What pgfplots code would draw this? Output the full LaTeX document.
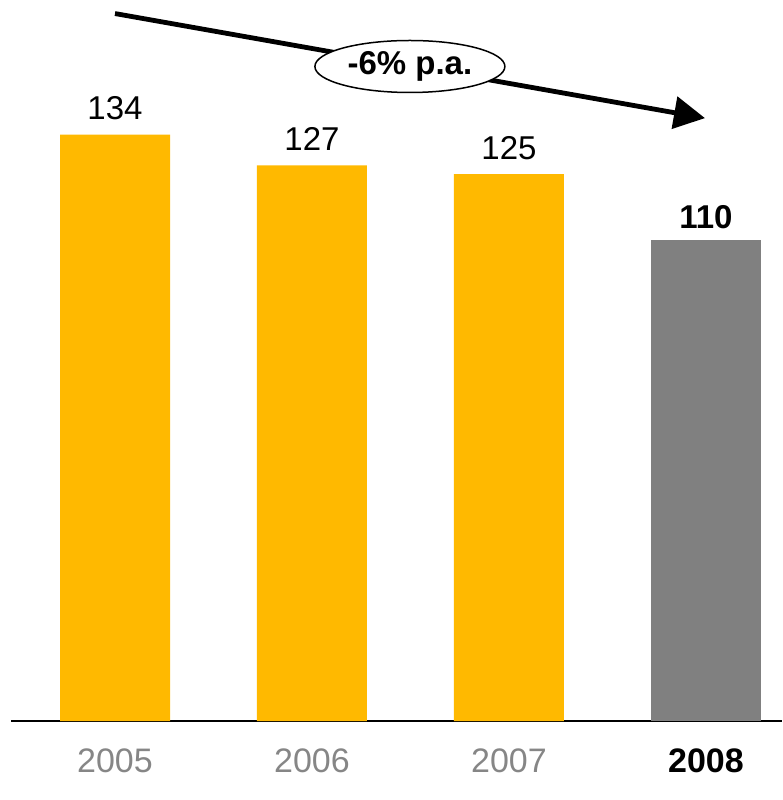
\documentclass[border=0pt]{standalone}
\usepackage{pgfplots}
\pgfplotsset{compat=1.18}
\usepackage{fontspec}
\setmainfont{Liberation Sans}
\usetikzlibrary{arrows.meta,shapes.geometric}
\definecolor{barY}{HTML}{FFB900}
\definecolor{barG}{HTML}{808080}
\definecolor{tickG}{HTML}{868686}
\begin{document}
\begin{tikzpicture}
\path[use as bounding box] (-11pt,-79pt) rectangle (771pt,721pt);
\begin{axis}[
  scale only axis,
  width=771pt, height=721pt,
  xmin=-0.528, xmax=3.386,
  ymin=0, ymax=164.8,
  axis y line=none,
  axis x line=bottom,
  x axis line style={-, line width=2pt},
  xtick={0,1,2,3},
  xticklabels={\textcolor{tickG}{2005},\textcolor{tickG}{2006},\textcolor{tickG}{2007},\textbf{2008}},
  major tick length=0pt,
  xticklabel style={anchor=base, yshift=-51pt, inner sep=0pt, font=\fontsize{34}{40}\selectfont},
  ybar, bar width=110pt, bar shift=0pt,
  clip=false,
  nodes near coords,
  point meta=explicit symbolic,
  nodes near coords style={anchor=base, inner sep=0pt, yshift=15pt, font=\fontsize{33}{40}\selectfont, text=black},
]
\addplot[fill=barY, draw=none] coordinates {(0,134)[134] (1,127)[127] (2,125)[125]};
\addplot[fill=barG, draw=none, nodes near coords style={yshift=-4pt, font=\fontsize{33}{40}\selectfont\bfseries}] coordinates {(3,110)[110]};
\draw[line width=4.8pt, -{Triangle[length=31pt,width=32pt]}] (axis cs:0,161.7) -- (axis cs:2.995,137.8);
\node[ellipse, draw=black, line width=1.5pt, fill=white, minimum width=190pt, minimum height=52pt, inner sep=0pt, font=\fontsize{33}{40}\selectfont\bfseries] at (axis cs:1.497,149.6) {-6\% p.a.};
\end{axis}
\end{tikzpicture}
\end{document}
